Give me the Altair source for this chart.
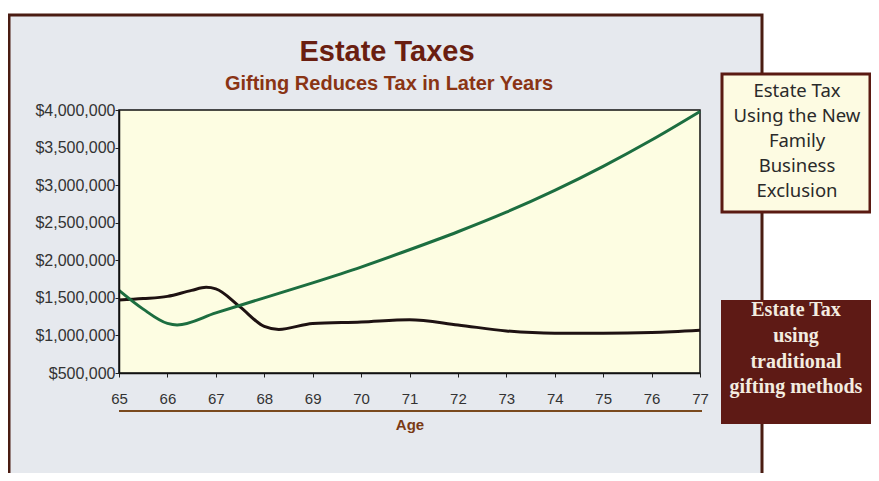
import altair as alt
import pandas as pd

# ---- data ----
ages_traditional = [65, 65.5, 66, 66.5, 66.8, 67, 67.5, 68, 68.3, 69, 70, 71, 72, 73, 74, 75, 76, 77]
tax_traditional = [1470000, 1490000, 1520000, 1600000, 1640000, 1620000, 1380000, 1120000, 1080000,
                   1160000, 1180000, 1210000, 1140000, 1060000, 1030000, 1030000, 1040000, 1070000]
ages_exclusion = [65, 65.5, 66, 66.2, 67, 68, 69, 70, 71, 72, 73, 74, 75, 76, 77]
tax_exclusion = [1600000, 1350000, 1160000, 1140000, 1300000, 1500000, 1700000, 1910000, 2140000,
                 2380000, 2640000, 2930000, 3250000, 3600000, 3980000]
series_names = ["traditional", "exclusion"]
x_ticks = [65, 66, 67, 68, 69, 70, 71, 72, 73, 74, 75, 76, 77]
y_ticks = [500000, 1000000, 1500000, 2000000, 2500000, 3000000, 3500000, 4000000]

title_text = "Estate Taxes"
subtitle_text = "Gifting Reduces Tax in Later Years"
x_title = "Age"
legend_new_lines = ["Estate Tax", "Using the New", "Family", "Business", "Exclusion"]
legend_trad_lines = ["Estate Tax", "using", "traditional", "gifting methods"]

W, H = 581, 263

df = pd.concat([
    pd.DataFrame({"age": ages_traditional, "tax": tax_traditional, "series": series_names[0]}),
    pd.DataFrame({"age": ages_exclusion, "tax": tax_exclusion, "series": series_names[1]}),
])

one = pd.DataFrame({"k": [0]})

def box(x, x2, y, y2, fill, stroke="transparent", sw=0):
    return alt.Chart(one).mark_rect(fill=fill, stroke=stroke, strokeWidth=sw).encode(
        x=alt.value(x), x2=alt.value(x2), y=alt.value(y), y2=alt.value(y2))

def label(text, x, y, size, color, font, weight="normal"):
    return alt.Chart(pd.DataFrame({"t": [text]})).mark_text(
        fontSize=size, color=color, font=font, fontWeight=weight,
        align="center", baseline="alphabetic").encode(
        text="t:N", x=alt.value(x), y=alt.value(y))

panel = box(-110, 643, -95, 380, "#e6e9ee", "#4a1c12", 3)
plotbg = box(0, W, 0, H, "#fdfde2", "#111111", 1.5)

xs = alt.X("age:Q", scale=alt.Scale(domain=[65, 77], nice=False, zero=False),
           axis=alt.Axis(values=x_ticks, title=None, grid=False, zindex=1,
                         labelFontSize=15, labelColor="#333333", labelFont="Liberation Sans",
                         tickSize=4, tickColor="#222222", domainColor="#111111",
                         domainWidth=1.5, labelPadding=14, labelFlush=False))
ys = alt.Y("tax:Q", scale=alt.Scale(domain=[500000, 4000000], nice=False, zero=False),
           axis=alt.Axis(values=y_ticks, title=None, grid=False, zindex=1, format="$,.0f",
                         labelFontSize=16, labelColor="#333333", labelFont="Liberation Sans",
                         tickSize=4, tickColor="#222222", domainColor="#111111",
                         domainWidth=1.5, labelPadding=0, labelFlush=False))

lines = alt.Chart(df).mark_line(strokeWidth=3, interpolate="monotone").encode(
    x=xs, y=ys,
    color=alt.Color("series:N", scale=alt.Scale(domain=series_names, range=["#1e1212", "#1c6e40"]),
                    legend=None),
    order=alt.Order("age:Q"))

title = label(title_text, 268, -49, 29, "#6a1e10", "Liberation Sans", "bold")
subtitle = label(subtitle_text, 270, -20, 20, "#8a3414", "Liberation Sans", "bold")

underline = alt.Chart(one).mark_rule(color="#7a4a1e", strokeWidth=2).encode(
    x=alt.value(0), x2=alt.value(583), y=alt.value(301))
agetitle = label(x_title, 291, 320, 15, "#7a3a14", "Liberation Sans", "bold")

box_new = box(603, 751, -36, 102, "#fdfbe2", "#5a1a12", 3)
new_texts = [label(t, 678, -13 + i * 25, 18.5, "#2a2a2a", "Noto Sans")
             for i, t in enumerate(legend_new_lines)]

box_trad = box(602, 752, 190, 314, "#5e1a15")
trad_base = [206, 232, 258, 283]
trad_texts = [label(t, 677, trad_base[i], 20, "#f3ece0", "Liberation Serif", "bold")
              for i, t in enumerate(legend_trad_lines)]

chart = alt.layer(
    panel, plotbg, lines, title, subtitle, underline, agetitle,
    box_new, *new_texts, box_trad, *trad_texts
).properties(
    width=W, height=H,
    autosize=alt.AutoSizeParams(type="none"),
    padding={"left": 111, "top": 102, "right": 171, "bottom": 100},
    background="white",
).configure_view(stroke="transparent")

chart.save("out.html", embed_options={"renderer": "svg", "actions": False})
